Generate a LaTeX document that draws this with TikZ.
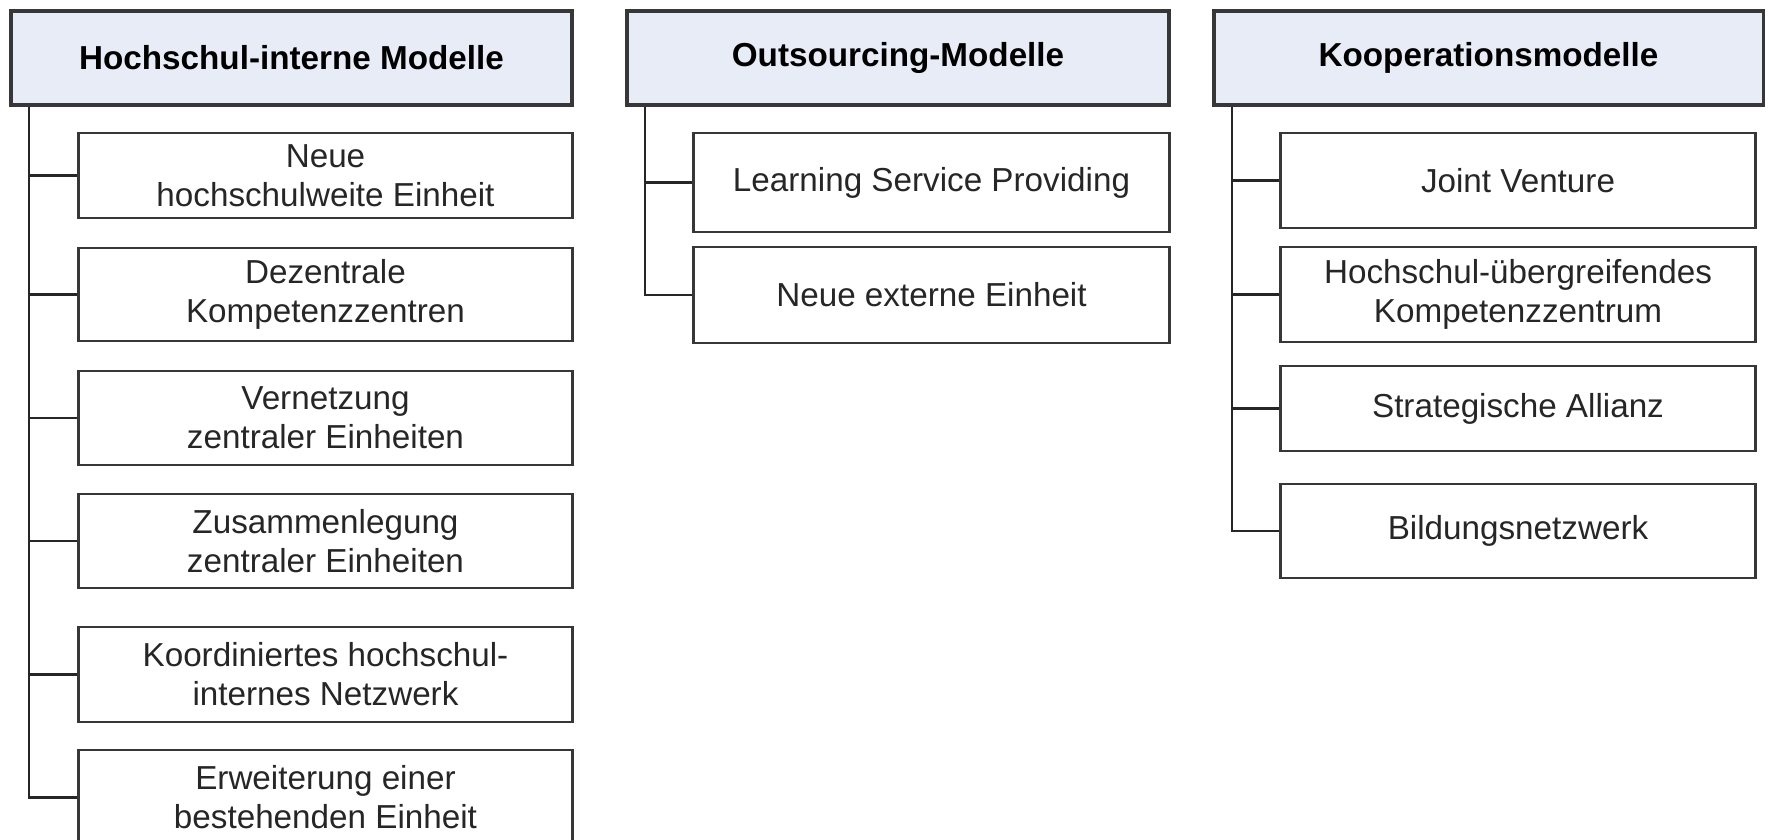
\documentclass[tikz,border=0pt]{standalone}
\usepackage{fontspec}
\setmainfont{Liberation Sans}
\definecolor{headfill}{RGB}{231,236,246}
\definecolor{boxline}{RGB}{55,55,55}
\definecolor{textgray}{RGB}{38,38,38}
\begin{document}
\begin{tikzpicture}
    [x=0.01cm,y=-0.01cm,
     head/.style={draw=boxline,line width=0.95pt,fill=headfill,inner sep=0pt,
                  font=\fontsize{9.45}{11.1}\selectfont\bfseries},
     item/.style={draw=boxline,line width=0.8pt,fill=white,inner sep=0pt,align=center,
                  text=textgray,font=\fontsize{9.45}{11.1}\selectfont},
     link/.style={line width=0.6pt,black!85}]

    \useasboundingbox (0,0) rectangle (1769,839);

    \foreach \name/\x/\w/\txt in {L/291.5/5.61cm/Hochschul-interne Modelle,
                                  M/898/5.42cm/Outsourcing-Modelle,
                                  R/1488.5/5.49cm/Kooperationsmodelle}
      \node[head,minimum width=\w,minimum height=0.94cm] (H-\name) at (\x,58) {\txt};

    \foreach \i/\y/\h/\txt in {1/175.5/0.85cm/{Neue\\hochschulweite Einheit},
                               2/294.5/0.93cm/{Dezentrale\\Kompetenzzentren},
                               3/418/0.94cm/{Vernetzung\\zentraler Einheiten},
                               4/541/0.94cm/{Zusammenlegung\\zentraler Einheiten},
                               5/674.5/0.95cm/{Koordiniertes hochschul-\\internes Netzwerk},
                               6/797.5/0.95cm/{Erweiterung einer\\bestehenden Einheit}}
      \node[item,minimum width=4.93cm,minimum height=\h] (L-\i) at (325.5,\y) {\txt};

    \foreach \i/\y/\h/\txt in {1/182.5/0.99cm/{Learning Service Providing},
                               2/295/0.96cm/{Neue externe Einheit}}
      \node[item,minimum width=4.75cm,minimum height=\h] (M-\i) at (931.5,\y) {\txt};

    \foreach \i/\y/\h/\txt in {1/180.5/0.95cm/{Joint Venture},
                               2/294.5/0.95cm/{Hochschul-übergreifendes\\Kompetenzzentrum},
                               3/408.5/0.85cm/{Strategische Allianz},
                               4/531/0.94cm/{Bildungsnetzwerk}}
      \node[item,minimum width=4.74cm,minimum height=\h] (R-\i) at (1518,\y) {\txt};

    \foreach \i in {1,...,6}
      \draw[link] ([xshift=0.2cm]H-L.south west) |- (L-\i.west);
    \foreach \i in {1,2}
      \draw[link] ([xshift=0.2cm]H-M.south west) |- (M-\i.west);
    \foreach \i in {1,...,4}
      \draw[link] ([xshift=0.2cm]H-R.south west) |- (R-\i.west);
  \end{tikzpicture}
\end{document}
